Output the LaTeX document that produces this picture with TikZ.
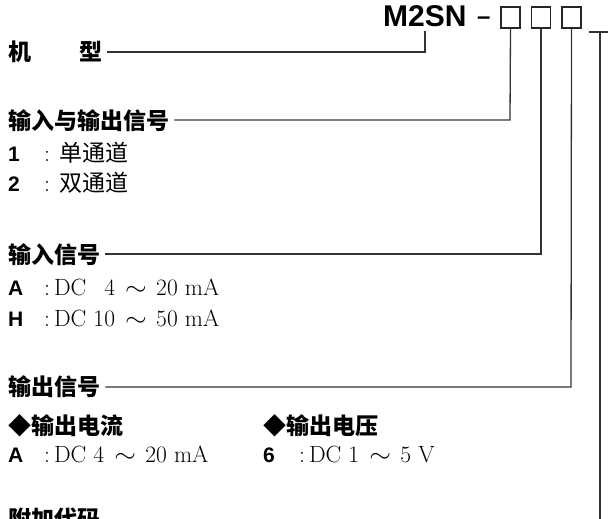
\documentclass[tikz,border=0pt]{standalone}
\usepackage{fontspec}
\usepackage{graphicx}
\newfontfamily\hsans{Liberation Sans}
\newfontfamily\cjk{Noto Sans CJK SC}
\newcommand\tildsep{\hspace{10pt}\scalebox{1.12}[1]{$\sim$}\hspace{9.5pt}}
\newcommand\colsep{:\hspace{4pt}}
\tikzset{
  txt/.style={anchor=base west, inner sep=0pt},
  hd/.style={anchor=base west, inner ysep=0pt, inner xsep=5pt, font=\cjk\bfseries\fontsize{23}{23}\selectfont},
  key/.style={txt, font=\hsans\bfseries\fontsize{21}{21}\selectfont},
  val/.style={txt, font=\fontsize{23.5}{23.5}\selectfont},
  cval/.style={txt, font=\fontsize{23.5}{23.5}\selectfont},
  sub/.style={txt, font=\cjk\bfseries\fontsize{23}{23}\selectfont},
  brand/.style={txt, font=\hsans\bfseries\fontsize{30}{30}\selectfont},
  box/.style={draw=black!85, line width=1.3pt, minimum width=19pt, minimum height=21pt, inner sep=0pt},
  conn/.style={draw=black!80, line width=1.3pt},
}
\begin{document}
\begin{tikzpicture}[x=1pt,y=-1pt]
\useasboundingbox (0,0) rectangle (608,519);
% model code
\node[brand] (m) at (383,27) {M2SN};
\node[txt, font=\hsans\bfseries\fontsize{24}{24}\selectfont] (dash) at (477,25) {–};
\node[box] (b1) at (510.5,17.5) {};
\node[box] (b2) at (541,17.5) {};
\node[box] (b3) at (571.5,17.5) {};
\coordinate (mdl) at (425,31);
\coordinate (tk1) at (589,32);
\coordinate (tk2) at (608,32);
\coordinate (tk3) at (600,32);
\coordinate (tk4) at (600,519);
% headings
\node[hd] (h0) at (3,61) {机\hspace{48pt}型};
\node[hd] (h1) at (3,129) {输入与输出信号};
\node[key] (k11) at (8,161) {1};
\node[cval] (v11) at (44,161) {: {\cjk\fontsize{23}{23}\selectfont 单通道}};
\node[key] (k12) at (8,191) {2};
\node[cval] (v12) at (44,191) {: {\cjk\fontsize{23}{23}\selectfont 双通道}};
\node[hd] (h2) at (3,263) {输入信号};
\node[key] (k21) at (8,295) {A};
\node[val] (v21) at (44,295) {\colsep DC \phantom{1}4\tildsep 20 mA};
\node[key] (k22) at (8,326) {H};
\node[val] (v22) at (44,326) {\colsep DC 10\tildsep 50 mA};
\node[hd] (h3) at (3,395) {输出信号};
\node[sub] (s1) at (8,434) {◆输出电流};
\node[sub] (s2) at (263,434) {◆输出电压};
\node[key] (k31) at (8,462) {A};
\node[val] (v31) at (44,462) {\colsep DC 4\tildsep 20 mA};
\node[key] (k32) at (263,462) {6};
\node[val] (v32) at (299,462) {\colsep DC 1\tildsep 5 V};
\node[hd] (h4) at (3,527) {附加代码};
% connectors
\coordinate (c0) at (425,52);
\coordinate (c1) at (510,120);
\coordinate (c2) at (541,254);
\coordinate (c3) at (571,387);
\draw[conn] (h0.east |- c0) -- (c0) -- (mdl);
\draw[conn] (h1.east |- c1) -- (c1) -- (b1.south);
\draw[conn] (h2.east |- c2) -- (c2) -- (b2.south);
\draw[conn] (h3.east |- c3) -- (c3) -- (b3.south);
\draw[conn] (tk1) -- (tk2);
\draw[conn] (tk3) -- (tk4);
\end{tikzpicture}
\end{document}
